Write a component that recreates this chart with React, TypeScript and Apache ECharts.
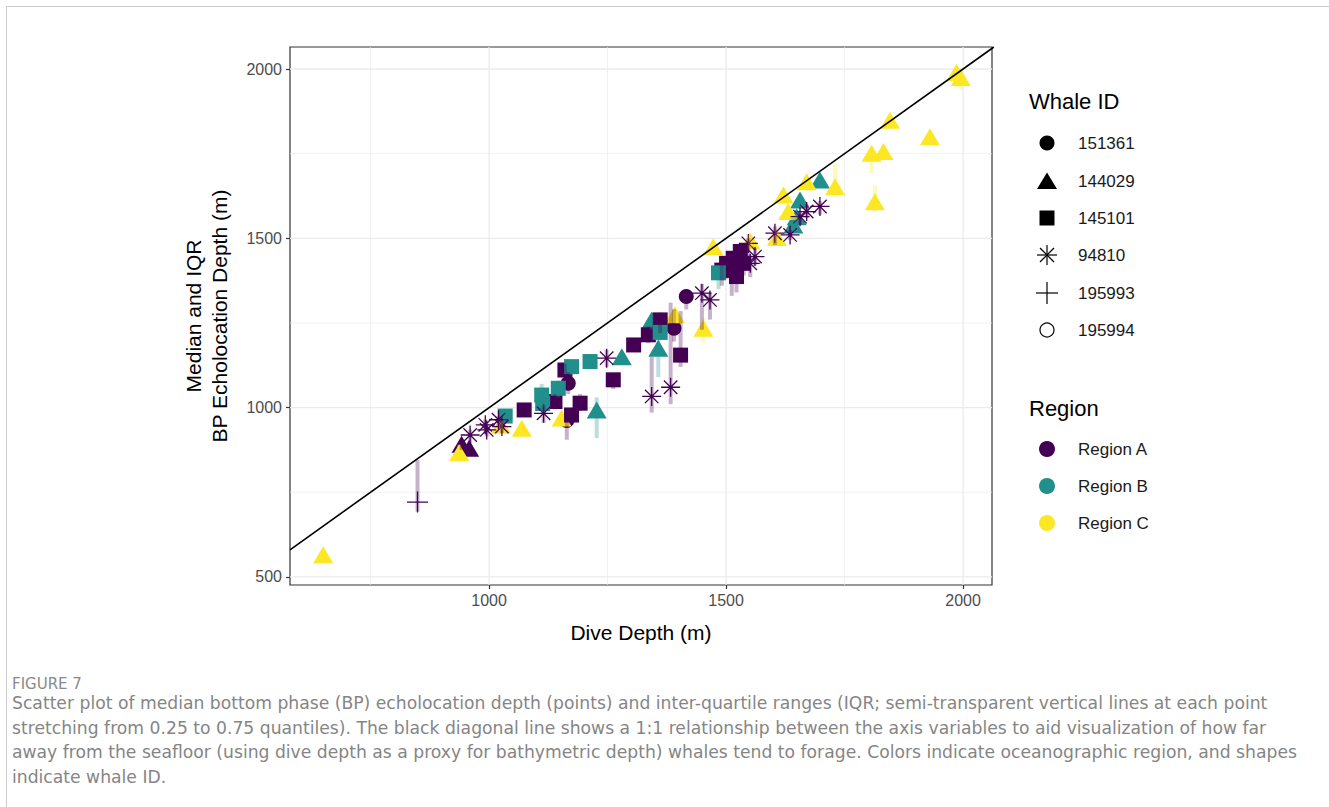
import React, { useEffect, useRef } from "react";
import * as echarts from "echarts";

const regionColors = ["#440154", "#21908C", "#FDE725"];
const regionNames = ["Region A", "Region B", "Region C"];
const whaleIds = ["151361", "144029", "145101", "94810", "195993", "195994"];

const xTicks = [1000, 1500, 2000];
const yTicks = [500, 1000, 1500, 2000];
const xGrid = [750, 1000, 1250, 1500, 1750, 2000];
const yGrid = [500, 750, 1000, 1250, 1500, 1750, 2000];

// [dive depth, median BP depth, q25, q75, region index]
const whale151361 = [
  [1167, 1072, 1040, 1105, 0],
  [1164, 962, 905, 1000, 0],
  [1390, 1234, 1195, 1290, 0],
  [1416, 1328, 1290, 1345, 0],
];
const whale144029 = [
  [650, 565, 565, 565, 2],
  [937, 867, 850, 890, 2],
  [942, 892, 875, 900, 0],
  [958, 880, 870, 895, 0],
  [1025, 948, 935, 960, 2],
  [1069, 939, 925, 950, 2],
  [1153, 969, 950, 985, 2],
  [1227, 993, 910, 1030, 1],
  [1280, 1150, 1130, 1165, 1],
  [1343, 1259, 1230, 1275, 1],
  [1357, 1175, 1090, 1200, 1],
  [1392, 1274, 1250, 1285, 2],
  [1452, 1234, 1195, 1265, 2],
  [1473, 1475, 1460, 1480, 2],
  [1551, 1492, 1470, 1510, 2],
  [1607, 1502, 1480, 1520, 2],
  [1621, 1628, 1600, 1640, 2],
  [1631, 1579, 1555, 1600, 2],
  [1642, 1539, 1520, 1560, 1],
  [1649, 1564, 1545, 1580, 1],
  [1656, 1613, 1590, 1625, 1],
  [1670, 1667, 1640, 1680, 2],
  [1698, 1672, 1650, 1680, 1],
  [1730, 1652, 1622, 1720, 2],
  [1807, 1751, 1693, 1760, 2],
  [1814, 1608, 1578, 1657, 2],
  [1832, 1756, 1735, 1770, 2],
  [1846, 1849, 1835, 1860, 2],
  [1930, 1800, 1790, 1810, 2],
  [1986, 1990, 1945, 2000, 2],
  [1995, 1975, 1940, 1990, 2],
];
const whale145101 = [
  [1034, 975, 960, 990, 1],
  [1074, 993, 975, 1010, 0],
  [1111, 1037, 1000, 1070, 1],
  [1113, 1012, 985, 1030, 1],
  [1139, 1018, 995, 1040, 0],
  [1146, 1057, 1030, 1080, 1],
  [1160, 1111, 1080, 1130, 0],
  [1174, 1121, 1095, 1140, 1],
  [1174, 978, 950, 1000, 0],
  [1192, 1013, 990, 1040, 0],
  [1213, 1136, 1115, 1150, 1],
  [1262, 1082, 1055, 1100, 0],
  [1305, 1185, 1170, 1200, 0],
  [1336, 1215, 1190, 1240, 0],
  [1361, 1222, 1200, 1245, 1],
  [1361, 1259, 1220, 1280, 0],
  [1404, 1155, 1120, 1285, 0],
  [1484, 1398, 1350, 1420, 1],
  [1491, 1406, 1360, 1430, 0],
  [1501, 1426, 1380, 1445, 0],
  [1512, 1406, 1330, 1425, 0],
  [1515, 1441, 1400, 1460, 0],
  [1522, 1387, 1340, 1410, 0],
  [1530, 1461, 1420, 1475, 0],
  [1537, 1426, 1390, 1450, 0],
];
const whale94810 = [
  [960, 919, 895, 935, 0],
  [992, 949, 930, 965, 0],
  [995, 934, 915, 950, 0],
  [1020, 964, 945, 975, 0],
  [1027, 944, 925, 960, 0],
  [1115, 983, 955, 1005, 0],
  [1248, 1146, 1120, 1170, 0],
  [1343, 1033, 985, 1150, 0],
  [1383, 1060, 1010, 1310, 0],
  [1449, 1338, 1230, 1365, 0],
  [1466, 1318, 1260, 1340, 0],
  [1547, 1485, 1440, 1500, 0],
  [1551, 1426, 1385, 1450, 0],
  [1561, 1446, 1420, 1470, 0],
  [1603, 1515, 1480, 1535, 0],
  [1635, 1510, 1495, 1525, 0],
  [1656, 1564, 1540, 1580, 0],
  [1670, 1579, 1560, 1600, 0],
  [1698, 1594, 1570, 1610, 0],
];
const whale195993 = [[849, 721, 693, 845, 0]];
const whale195994: number[][] = [];

const captionLines = [
  "Scatter plot of median bottom phase (BP) echolocation depth (points) and inter-quartile ranges (IQR; semi-transparent vertical lines at each point",
  "stretching from 0.25 to 0.75 quantiles). The black diagonal line shows a 1:1 relationship between the axis variables to aid visualization of how far",
  "away from the seafloor (using dive depth as a proxy for bathymetric depth) whales tend to forage. Colors indicate oceanographic region, and shapes",
  "indicate whale ID.",
];

const X_MIN = 580, X_MAX = 2061, Y_MIN = 476, Y_MAX = 2065;

const ASTER = "path://M0,-10L0,10M-10,0L10,0M-7.07,-7.07L7.07,7.07M-7.07,7.07L7.07,-7.07";
const PLUS = "path://M0,-10L0,10M-10,0L10,0";

const whaleData = [whale151361, whale144029, whale145101, whale94810, whale195993, whale195994];
const whaleSymbols: any[] = [
  { symbol: "circle", size: 15, line: false },
  { symbol: "triangle", size: [20, 17], line: false },
  { symbol: "rect", size: 15, line: false },
  { symbol: ASTER, size: 19, line: true },
  { symbol: PLUS, size: 21, line: true },
  { symbol: "emptyCircle", size: 15, line: false },
];

export default function App() {
  const ref = useRef<HTMLDivElement>(null);
  useEffect(() => {
    const chart = echarts.init(ref.current!, null, { renderer: "svg" });
    const series: any[] = [];

    series.push({
      type: "custom",
      name: "gridX",
      silent: true,
      z: 0,
      data: xGrid.map((v) => [v, v % 500 === 0 ? 1.3 : 0.7]),
      renderItem: (params: any, api: any) => {
        const v = api.value(0);
        const p1 = api.coord([v, Y_MIN]);
        const p2 = api.coord([v, Y_MAX]);
        return {
          type: "line",
          shape: { x1: p1[0], y1: p1[1], x2: p2[0], y2: p2[1] },
          style: { stroke: "#ebebeb", lineWidth: api.value(1) },
        };
      },
    });
    series.push({
      type: "custom",
      name: "gridY",
      silent: true,
      z: 0,
      data: yGrid.map((v) => [X_MIN, v, v % 500 === 0 ? 1.3 : 0.7]),
      renderItem: (params: any, api: any) => {
        const v = api.value(1);
        const p1 = api.coord([X_MIN, v]);
        const p2 = api.coord([X_MAX, v]);
        return {
          type: "line",
          shape: { x1: p1[0], y1: p1[1], x2: p2[0], y2: p2[1] },
          style: { stroke: "#ebebeb", lineWidth: api.value(2) },
        };
      },
    });

    whaleData.forEach((arr, wi) => {
      const sym = whaleSymbols[wi];
      for (let r = 0; r < 3; r++) {
        const pts = arr.filter((d) => d[4] === r).map((d) => [d[0], d[1]]);
        if (!pts.length) continue;
        series.push({
          type: "scatter",
          name: whaleIds[wi] + " " + regionNames[r],
          z: 2,
          symbol: sym.symbol,
          symbolSize: sym.size,
          data: pts,
          itemStyle: sym.line
            ? { color: "rgba(0,0,0,0)", borderColor: regionColors[r], borderWidth: 1.3, opacity: 1 }
            : { color: regionColors[r], opacity: 1 },
        });
      }
    });

    const iqr: number[][] = [];
    whaleData.forEach((arr) => arr.forEach((d) => iqr.push([d[0], d[2], d[3], d[4]])));
    series.push({
      type: "custom",
      name: "IQR",
      z: 3,
      silent: true,
      clip: true,
      data: iqr,
      renderItem: (params: any, api: any) => {
        const x = api.value(0);
        const lo = api.coord([x, api.value(1)]);
        const hi = api.coord([x, api.value(2)]);
        return {
          type: "rect",
          shape: { x: lo[0] - 2, y: hi[1], width: 4, height: Math.max(lo[1] - hi[1], 0.5) },
          style: { fill: regionColors[api.value(3)], opacity: 0.3 },
        };
      },
    });

    series.push({
      type: "line",
      name: "1:1",
      z: 4,
      silent: true,
      symbol: "none",
      data: [
        [X_MIN, X_MIN],
        [Y_MAX, Y_MAX],
      ],
      lineStyle: { color: "#000", width: 1.6 },
      clip: true,
    });

    const legendX = 1047;
    const textX = 1078;
    const wy = [143, 181, 218, 255, 293, 330];
    const ry = [449, 486, 523];
    const graphic: any[] = [
      { type: "line", shape: { x1: 6.5, y1: 6.5, x2: 1329, y2: 6.5 }, style: { stroke: "#cccccc", lineWidth: 1 } },
      { type: "line", shape: { x1: 6.5, y1: 6.5, x2: 6.5, y2: 807 }, style: { stroke: "#cccccc", lineWidth: 1 } },
      {
        type: "text", x: 641, y: 632,
        style: { text: "Dive Depth (m)", fontSize: 21, fontFamily: "Liberation Sans", fill: "#000", align: "center", verticalAlign: "middle" },
      },
      {
        type: "text", x: 193, y: 316, rotation: Math.PI / 2,
        style: { text: "Median and IQR", fontSize: 21, fontFamily: "Liberation Sans", fill: "#000", align: "center", verticalAlign: "middle" },
      },
      {
        type: "text", x: 219, y: 316, rotation: Math.PI / 2,
        style: { text: "BP Echolocation Depth (m)", fontSize: 21, fontFamily: "Liberation Sans", fill: "#000", align: "center", verticalAlign: "middle" },
      },
      {
        type: "text", x: 1029, y: 101,
        style: { text: "Whale ID", fontSize: 22, fontFamily: "Liberation Sans", fill: "#000", align: "left", verticalAlign: "middle" },
      },
      {
        type: "text", x: 1029, y: 408,
        style: { text: "Region", fontSize: 22, fontFamily: "Liberation Sans", fill: "#000", align: "left", verticalAlign: "middle" },
      },
      { type: "circle", shape: { cx: legendX, cy: wy[0], r: 7.5 }, style: { fill: "#000" } },
      {
        type: "polygon",
        shape: { points: [[legendX, wy[1] - 8.5], [legendX + 10, wy[1] + 8], [legendX - 10, wy[1] + 8]] },
        style: { fill: "#000" },
      },
      { type: "rect", shape: { x: legendX - 7.5, y: wy[2] - 7.5, width: 15, height: 15 }, style: { fill: "#000" } },
      { type: "line", shape: { x1: legendX, y1: wy[3] - 10, x2: legendX, y2: wy[3] + 10 }, style: { stroke: "#000", lineWidth: 1.2 } },
      { type: "line", shape: { x1: legendX - 10, y1: wy[3], x2: legendX + 10, y2: wy[3] }, style: { stroke: "#000", lineWidth: 1.2 } },
      { type: "line", shape: { x1: legendX - 7, y1: wy[3] - 7, x2: legendX + 7, y2: wy[3] + 7 }, style: { stroke: "#000", lineWidth: 1.2 } },
      { type: "line", shape: { x1: legendX - 7, y1: wy[3] + 7, x2: legendX + 7, y2: wy[3] - 7 }, style: { stroke: "#000", lineWidth: 1.2 } },
      { type: "line", shape: { x1: legendX, y1: wy[4] - 11, x2: legendX, y2: wy[4] + 11 }, style: { stroke: "#000", lineWidth: 1.2 } },
      { type: "line", shape: { x1: legendX - 11, y1: wy[4], x2: legendX + 11, y2: wy[4] }, style: { stroke: "#000", lineWidth: 1.2 } },
      { type: "circle", shape: { cx: legendX, cy: wy[5], r: 7 }, style: { fill: "#fff", stroke: "#000", lineWidth: 1.2 } },
      ...whaleIds.map((id, i) => ({
        type: "text", x: textX, y: wy[i],
        style: { text: id, fontSize: 17, fontFamily: "Liberation Sans", fill: "#1a1a1a", align: "left", verticalAlign: "middle" },
      })),
      ...regionNames.map((n, i) => ({ type: "circle", shape: { cx: legendX, cy: ry[i], r: 8 }, style: { fill: regionColors[i] } })),
      ...regionNames.map((n, i) => ({
        type: "text", x: textX, y: ry[i],
        style: { text: n, fontSize: 17, fontFamily: "Liberation Sans", fill: "#1a1a1a", align: "left", verticalAlign: "middle" },
      })),
      {
        type: "text", x: 12, y: 684,
        style: { text: "FIGURE 7", fontSize: 15, fontFamily: "DejaVu Sans", fill: "#8a8a8a", align: "left", verticalAlign: "middle" },
      },
      ...captionLines.map((t, i) => ({
        type: "text", x: 12, y: 703 + i * 24.5,
        style: { text: t, fontSize: 17.2, fontFamily: "DejaVu Sans", fill: "#858585", align: "left", verticalAlign: "middle" },
      })),
    ];

    const fmt = (v: number) => String(v);
    chart.setOption({
      animation: false,
      backgroundColor: "#ffffff",
      grid: { left: 290, top: 47, width: 702, height: 538, show: true, borderColor: "#333", borderWidth: 1.2, backgroundColor: "transparent" },
      xAxis: {
        type: "value",
        min: X_MIN,
        max: X_MAX,
        axisLine: { show: false },
        splitLine: { show: false },
        axisTick: { show: true, length: 4, lineStyle: { color: "#333", width: 1.2 }, customValues: xTicks },
        axisLabel: { customValues: xTicks, formatter: fmt, color: "#4d4d4d", fontSize: 16, fontFamily: "Liberation Sans", margin: 7 },
      },
      yAxis: {
        type: "value",
        min: Y_MIN,
        max: Y_MAX,
        axisLine: { show: false },
        splitLine: { show: false },
        axisTick: { show: true, length: 4, lineStyle: { color: "#333", width: 1.2 }, customValues: yTicks },
        axisLabel: { customValues: yTicks, formatter: fmt, color: "#4d4d4d", fontSize: 16, fontFamily: "Liberation Sans", margin: 8 },
      },
      series,
      graphic,
    });
    return () => chart.dispose();
  }, []);
  return <div ref={ref} style={{ position: "absolute", left: 0, top: 0, width: 1329, height: 807 }} />;
}
